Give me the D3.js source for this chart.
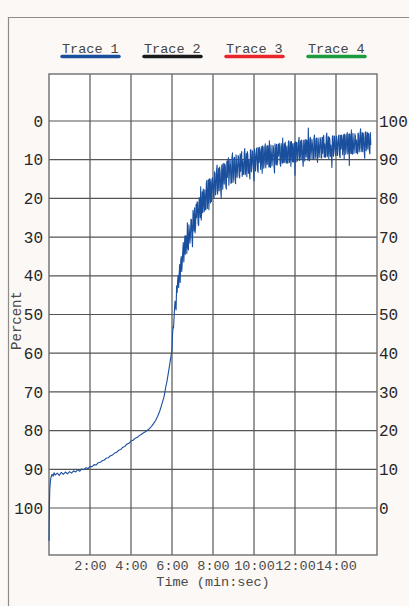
<!DOCTYPE html>
<html>
<head>
<meta charset="utf-8">
<script src="https://cdn.jsdelivr.net/npm/d3@7"></script>
<style>
  body { margin: 0; background: #fbf8f5; }
  svg { display: block; }
</style>
</head>
<body>
<div id="chart"></div>
<script>
// Trace names and their colours
const traceNames = ["Trace 1", "Trace 2", "Trace 3", "Trace 4"];
const traceColors = ["#1a4f9e", "#1a1a1a", "#e8262b", "#1d9a3d"];

// Tick labels
const leftTicks = [0, 10, 20, 30, 40, 50, 60, 70, 80, 90, 100];
const rightTicks = [0, 10, 20, 30, 40, 50, 60, 70, 80, 90, 100];
const timeTicks = [2, 4, 6, 8, 10, 12, 14];
const timeLabels = ["2:00", "4:00", "6:00", "8:00", "10:00", "12:00", "14:00"];

// Trace 1, start of the run (minutes, percent)
const earlyTime = [0, 0.01, 0.02, 0.04, 0.07, 0.1, 0.15, 0.2, 0.25, 0.3, 0.4, 0.5, 0.6, 0.7, 0.8, 0.9,
  1.0, 1.1, 1.2, 1.3, 1.4, 1.5, 1.6, 1.7, 1.8, 1.9, 2.0, 2.1, 2.2, 2.3, 2.4, 2.5, 2.6, 2.7, 2.8, 2.9,
  3.0, 3.1, 3.2, 3.3, 3.4, 3.5, 3.6, 3.7, 3.8, 3.9, 4.0, 4.1, 4.2, 4.3, 4.4, 4.5, 4.6, 4.7, 4.8, 4.9,
  5.0, 5.1, 5.2, 5.3, 5.4, 5.5, 5.6, 5.65, 5.7, 5.75, 5.8, 5.85, 5.9, 5.95];
const earlyPct = [108.5, 104, 99, 95, 93, 92, 91.3, 91.8, 90.9, 91.5, 91, 91.6, 90.8, 91.3, 90.7, 91.2,
  90.6, 91.0, 90.4, 90.7, 90.1, 90.5, 89.9, 90.1, 89.6, 89.8, 89.3, 89.3, 88.8, 88.9, 88.3, 88.2, 87.8, 87.6, 87.1, 87.0,
  86.5, 86.3, 85.8, 85.6, 85.1, 84.9, 84.3, 84.1, 83.5, 83.3, 82.7, 82.5, 82.0, 81.8, 81.3, 81.0, 80.6, 80.3, 79.9, 79.5,
  78.9, 78.2, 77.4, 76.3, 75.0, 73.3, 71.5, 70.2, 68.6, 67.4, 65.8, 64.2, 62.5, 60.8];

// Trace 1, noisy part, one sample every 1.5 s from 6:00 (one row per minute)
const lateStart = 6.0;
const lateStep = 0.025;
const latePct = [
  59.2, 55.2, 53.2, 53.5, 50.8, 48.3, 46.5, 48.2, 48.8, 42.6, 44.3, 41.2, 39.9, 43, 39.6, 37.1, 41.7, 36.2, 35, 38.9,
  36.7, 33.6, 31.4, 36.4, 33.5, 29.7, 34.4, 29.6, 30.4, 34.2, 26.3, 32.5, 33.3, 26.8, 28.7, 31.6, 29.6, 25.4, 25.5, 30.2,
  32.5, 23.1, 24.8, 28.4, 22.4, 28.9, 27.3, 21.5, 25, 20.9, 21.1, 26.6, 27, 19.8, 21.5, 24.9, 17, 25.6, 23.1, 18.3,
  23.7, 17.6, 20, 23.4, 17.8, 22.9, 22.9, 16.1, 15.3, 22.6, 19.9, 15.2, 22.9, 14.9, 16.4, 21.2, 15, 20.8, 18, 14.6,
  15.9, 19.6, 20, 13.1, 13.6, 19.1, 17.8, 12.7, 11.4, 18.9, 16, 12.2, 18, 11.9, 13.3, 17.8, 19.8, 11.5, 11.2, 17.6,
  13.8, 10.9, 16.3, 11.1, 11.7, 16.9, 17.6, 10.4, 14.6, 10.2, 9.5, 16.6, 13.7, 9.9, 11.3, 16.1, 16, 9.5, 8.2, 15.9,
  14.5, 9.6, 9.4, 15.1, 16.2, 8.7, 11.1, 14.6, 12.4, 8.9, 9.3, 14.2, 14.7, 8.5, 13, 9.2, 7.9, 14.3, 10.3, 13.8,
  13.7, 8.2, 7.1, 13.9, 12, 8.4, 14.4, 7.9, 8.8, 13.5, 10.1, 13.4, 15, 7.6, 7.4, 13.1, 11.3, 7.7, 8.7, 12.9,
  15.5, 7.2, 8.6, 12.9, 10.5, 7.1, 6.9, 12.6, 13.3, 6.9, 10.7, 6.8, 7.6, 12.5, 9.1, 6.6, 13.5, 6.4, 6.9, 12.2,
  11, 6.8, 5.9, 12.1, 9.8, 6.5, 11.2, 6.3, 8.1, 11.9, 5.1, 11.8, 12, 6.2, 8.5, 11.6, 9.9, 6.3, 6.9, 11.5,
  13.4, 5.9, 7.5, 11.2, 6, 11.4, 10.5, 6.1, 9, 5.7, 6.4, 11.1, 11.7, 5.8, 7.6, 10.9, 4.4, 10.8, 9.8, 5.9,
  10.7, 5.5, 7.9, 10.9, 6.5, 10.6, 10.9, 5.6, 5.1, 10.7, 9, 5.4, 11.7, 5.3, 6.8, 10.5, 5.8, 10.6, 8.5, 5.6,
  14, 5.4, 10.6, 5.5, 5.6, 10.3, 9.2, 5.2, 4.2, 10.2, 8.2, 5.1, 9.9, 4.9, 6.3, 10.1, 11.7, 5, 4.9, 10.3,
  7.2, 4.8, 9.3, 4.9, 5.7, 10.1, 1.8, 9.9, 10.3, 4.6, 4.2, 9.8, 7.8, 4.7, 6, 9.9, 9.9, 4.5, 3.6, 9.7,
  9, 4.6, 4.4, 9.7, 10.7, 4.4, 6.1, 9.4, 7.5, 4.3, 4.8, 9.5, 9.6, 4.2, 8.3, 4.3, 3.7, 9.3, 5.9, 9.4,
  9, 4.1, 3.1, 9.2, 7.6, 4, 9.8, 4.2, 4.8, 9.1, 6.2, 9, 12, 3.9, 3.8, 9.1, 7.4, 3.9, 5.2, 8.9,
  8.8, 3.9, 5.1, 8.9, 6.9, 3.8, 3.6, 8.8, 9.5, 3.7, 7.2, 3.6, 4.4, 8.7, 5.8, 3.5, 9.8, 3.4, 3.9, 8.6,
  7.5, 3.5, 3, 8.5, 6.5, 3.4, 11.5, 3.3, 5.1, 8.4, 2.3, 8.3, 8.6, 3.2, 5.5, 8.4, 6.8, 3.3, 4, 8.2,
  4.9, 8.1, 8.5, 3.1, 3.5, 8.0, 7.1, 3.2, 2, 7.9, 6.1, 3.0, 7.9, 3.1, 4.2, 7.8, 9.6, 3.0, 2.8, 7.7,
  5, 2.9, 7.2, 3.2, 3.5, 7.6, 8.5, 3.0, 6.2
];

const W = 409, H = 606;
const plot = {left: 49, right: 377, top: 74, bottom: 555};

const trace1 = earlyTime.map((t, i) => ({t: t, v: earlyPct[i]}))
  .concat(latePct.map((v, i) => ({t: lateStart + i * lateStep, v: v})));

const svg = d3.select("#chart")
  .append("svg")
  .attr("width", W)
  .attr("height", H);

svg.append("rect")
  .attr("width", W)
  .attr("height", H)
  .attr("fill", "#fbf8f5");

// panel frame (only its top and left edges are in view)
svg.append("path")
  .attr("d", "M8.5," + H + "V17.5H" + W)
  .attr("fill", "none")
  .attr("stroke", "#8c8c8c")
  .attr("stroke-width", 1.2);

let x = d3.scaleLinear()
  .domain([0, 16])
  .range([plot.left, plot.right]);

let y = d3.scaleLinear()
  .domain([-12.15, 112.15])
  .range([plot.top, plot.bottom]);

let yRight = d3.scaleLinear()
  .domain([112.15, -12.15])
  .range([plot.top, plot.bottom]);

svg.append("rect")
  .attr("x", plot.left)
  .attr("y", plot.top)
  .attr("width", plot.right - plot.left)
  .attr("height", plot.bottom - plot.top)
  .attr("fill", "#ffffff");

// grid
svg.append("g")
  .selectAll("line")
  .data(timeTicks)
  .join("line")
  .attr("x1", d => x(d)).attr("x2", d => x(d))
  .attr("y1", plot.top).attr("y2", plot.bottom)
  .attr("stroke", "#555")
  .attr("stroke-width", 1.2);

svg.append("g")
  .selectAll("line")
  .data(leftTicks)
  .join("line")
  .attr("x1", plot.left).attr("x2", plot.right)
  .attr("y1", d => y(d)).attr("y2", d => y(d))
  .attr("stroke", "#555")
  .attr("stroke-width", 1.2);

svg.append("rect")
  .attr("x", plot.left)
  .attr("y", plot.top)
  .attr("width", plot.right - plot.left)
  .attr("height", plot.bottom - plot.top)
  .attr("fill", "none")
  .attr("stroke", "#6e6e6e")
  .attr("stroke-width", 1.4);

// axes
const monoFont = "'Liberation Mono', 'DejaVu Sans Mono', monospace";

let leftAxis = svg.append("g")
  .attr("transform", "translate(" + plot.left + ",0)")
  .call(d3.axisLeft(y).tickValues(leftTicks).tickSize(0).tickPadding(6));

let rightAxis = svg.append("g")
  .attr("transform", "translate(" + plot.right + ",0)")
  .call(d3.axisRight(yRight).tickValues(rightTicks).tickSize(0).tickPadding(2));

[leftAxis, rightAxis].forEach(a => {
  a.select(".domain").remove();
  a.selectAll("text")
    .style("font-family", monoFont)
    .style("font-size", "16px")
    .attr("fill", "#262626");
});

let bottomAxis = svg.append("g")
  .attr("transform", "translate(0," + plot.bottom + ")")
  .call(d3.axisBottom(x).tickValues(timeTicks)
    .tickFormat((d, i) => timeLabels[i]).tickSize(0).tickPadding(5));
bottomAxis.select(".domain").remove();
bottomAxis.selectAll("text")
  .style("font-family", monoFont)
  .style("font-size", "13.5px")
  .attr("fill", "#4a4a4a");

svg.append("text")
  .attr("x", (plot.left + plot.right) / 2)
  .attr("y", 586)
  .attr("text-anchor", "middle")
  .style("font-family", monoFont)
  .style("font-size", "13.5px")
  .attr("fill", "#4a4a4a")
  .text("Time (min:sec)");

svg.append("text")
  .attr("transform", "translate(21,320.5) rotate(-90)")
  .attr("text-anchor", "middle")
  .style("font-family", monoFont)
  .style("font-size", "14px")
  .attr("fill", "#4a4a4a")
  .text("Percent");

// legend
let legend = svg.append("g")
  .selectAll("g")
  .data(traceNames)
  .join("g")
  .attr("transform", (d, i) => "translate(" + (61 + i * 82) + ",0)");

legend.append("text")
  .attr("x", 1)
  .attr("y", 52.5)
  .style("font-family", monoFont)
  .style("font-size", "13.5px")
  .attr("fill", "#444")
  .text(d => d);

legend.append("line")
  .attr("x1", 1).attr("x2", 58)
  .attr("y1", 56.5).attr("y2", 56.5)
  .attr("stroke", (d, i) => traceColors[i])
  .attr("stroke-width", 3.5)
  .attr("stroke-linecap", "round");

// trace 1
let line = d3.line()
  .x(d => x(d.t))
  .y(d => y(d.v));

svg.append("path")
  .datum(trace1)
  .attr("d", line)
  .attr("fill", "none")
  .attr("stroke", traceColors[0])
  .attr("stroke-width", 1.1)
  .attr("stroke-linejoin", "round");
</script>
</body>
</html>
